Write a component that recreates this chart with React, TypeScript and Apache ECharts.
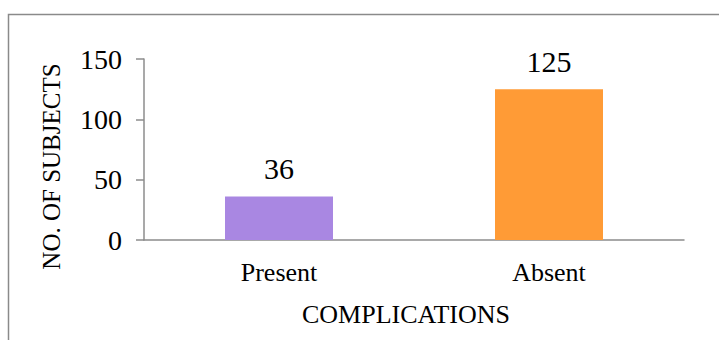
import React, { useEffect, useRef } from "react";
import * as echarts from "echarts";

const categories: string[] = ["Present", "Absent"];
const subjects: number[] = [36, 125];
const barColors: string[] = ["#A987E2", "#FF9B36"];
const yTicks = { min: 0, max: 150, interval: 50 };

const FONT = "'Liberation Serif', 'Times New Roman', serif";

export default function App() {
  const ref = useRef<HTMLDivElement>(null);

  useEffect(() => {
    if (!ref.current) return;
    const chart = echarts.init(ref.current, undefined, { renderer: "svg" });
    chart.setOption({
      animation: false,
      backgroundColor: "#ffffff",
      graphic: [
        {
          type: "rect",
          shape: { x: 8.5, y: 14.5, width: 900, height: 500 },
          style: { fill: "none", stroke: "#8a8a8a", lineWidth: 1.5 },
          silent: true,
        },
      ],
      grid: { left: 144, right: 35, top: 59, bottom: 100 },
      xAxis: {
        type: "category",
        data: categories,
        name: "COMPLICATIONS",
        nameLocation: "middle",
        nameGap: 61,
        nameTextStyle: {
          fontFamily: FONT,
          fontSize: 26,
          color: "#000",
          padding: [0, 16, 0, 0],
        },
        axisLine: { lineStyle: { color: "#8c8c8c", width: 1.5 } },
        axisTick: { length: 7, lineStyle: { color: "#8c8c8c", width: 1.5 } },
        axisLabel: {
          fontFamily: FONT,
          fontSize: 26,
          color: "#000",
          margin: 19,
        },
      },
      yAxis: {
        type: "value",
        min: yTicks.min,
        max: yTicks.max,
        interval: yTicks.interval,
        name: "NO. OF SUBJECTS",
        nameLocation: "middle",
        nameGap: 80,
        nameRotate: 90,
        nameTextStyle: {
          fontFamily: FONT,
          fontSize: 25,
          color: "#000",
          padding: [0, 34, 0, 0],
        },
        splitLine: { show: false },
        axisLine: { show: true, lineStyle: { color: "#8c8c8c", width: 1.5 } },
        axisTick: { show: true, length: 8, lineStyle: { color: "#8c8c8c", width: 1.5 } },
        axisLabel: {
          fontFamily: FONT,
          fontSize: 28,
          color: "#000",
          margin: 22,
        },
      },
      series: [
        {
          type: "bar",
          barWidth: "40%",
          data: subjects.map((v, i) => ({
            value: v,
            itemStyle: { color: barColors[i] },
          })),
          label: {
            show: true,
            position: "top",
            distance: 13,
            fontFamily: FONT,
            fontSize: 30,
            color: "#000",
          },
        },
      ],
    });
    return () => chart.dispose();
  }, []);

  return (
    <div
      ref={ref}
      style={{ position: "absolute", left: 0, top: 0, width: 719, height: 340 }}
    />
  );
}
